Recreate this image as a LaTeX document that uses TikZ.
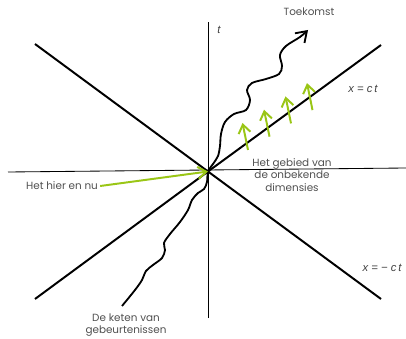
\documentclass[tikz,border=0pt]{standalone}
\usepackage{fontspec}
\setmainfont{Poppins}
\newfontfamily\formfont{Liberation Sans}
\usetikzlibrary{arrows.meta}

\definecolor{limoen}{RGB}{154,198,22}
\definecolor{tekst}{RGB}{80,80,80}

\begin{document}
\begin{tikzpicture}[
  x=0.025cm, y=-0.025cm,
  font=\fontsize{7.4}{9.5}\selectfont,
  as/.style={draw=black, line width=0.6pt},
  kegel/.style={draw=black, line width=1.4pt},
  keten/.style={
    draw=black, line width=1.3pt,
    -{Straight Barb[length=2.5mm, width=3.4mm, line width=1.3pt]}
  },
  pijl/.style={
    draw=limoen, line width=1.4pt,
    -{Straight Barb[length=2.1mm, width=3mm, line width=1.4pt]}
  },
  tekstje/.style={text=tekst, align=center, inner sep=0pt},
  formule/.style={text=black!75, font=\formfont\fontsize{8}{10}\selectfont\itshape, inner sep=0pt}
]
\useasboundingbox (0,0) rectangle (406,339);

% ----- assen en lichtkegel -----
\coordinate (O) at (208,171.5);
\draw[as] (8,172) -- (406,168);
\draw[as] (208.5,318) -- (208.5,22);
\draw[kegel] (35,44) -- (O) -- (381,299);
\draw[kegel] (35,299) -- (O) -- (381,45);

% ----- labels -----
\node[formule] (t) at (219,30) {t};
\node[formule] (plus) at (363,89) {x = c\,t};
\node[formule] (min) at (382,268) {x = − c\,t};
\node[tekstje] (toekomst) at (309,12) {Toekomst};
\node[tekstje] (gebied) at (292,175)
  {Het gebied van\\[-0.6pt]de onbekende\\[-0.6pt]dimensies};
\node[tekstje] (hier) at (62,186) {Het hier en nu};
\node[tekstje] (keten) at (126,325) {De keten van\\[-1pt]gebeurtenissen};

% ----- keten van gebeurtenissen -----
\coordinate (begin) at (122,306);
\coordinate (top) at (308,30);
\draw[keten] plot[smooth, tension=0.55] coordinates {
  (begin) (135,290) (142,280) (146,271) (153,265) (162,258) (165,250)
  (164,243) (170,234) (180,222) (188,210) (192,200) (198,193) (204,189)
  (207,182) (O) (213,164) (218,156) (220,146) (221,134) (225,122)
  (234,114) (246,110) (250,100) (247,90) (252,83) (266,79) (279,74)
  (282,66) (280,55) (286,46) (300,37) (top)
};

% ----- pijlen -----
\draw[pijl] (hier.east) ++(2,0) -- (O);
\foreach \i in {0,...,3}
  \draw[pijl] (248+21.5*\i, 150-13.3*\i) -- ++(-5.5,-27);

\end{tikzpicture}
\end{document}
